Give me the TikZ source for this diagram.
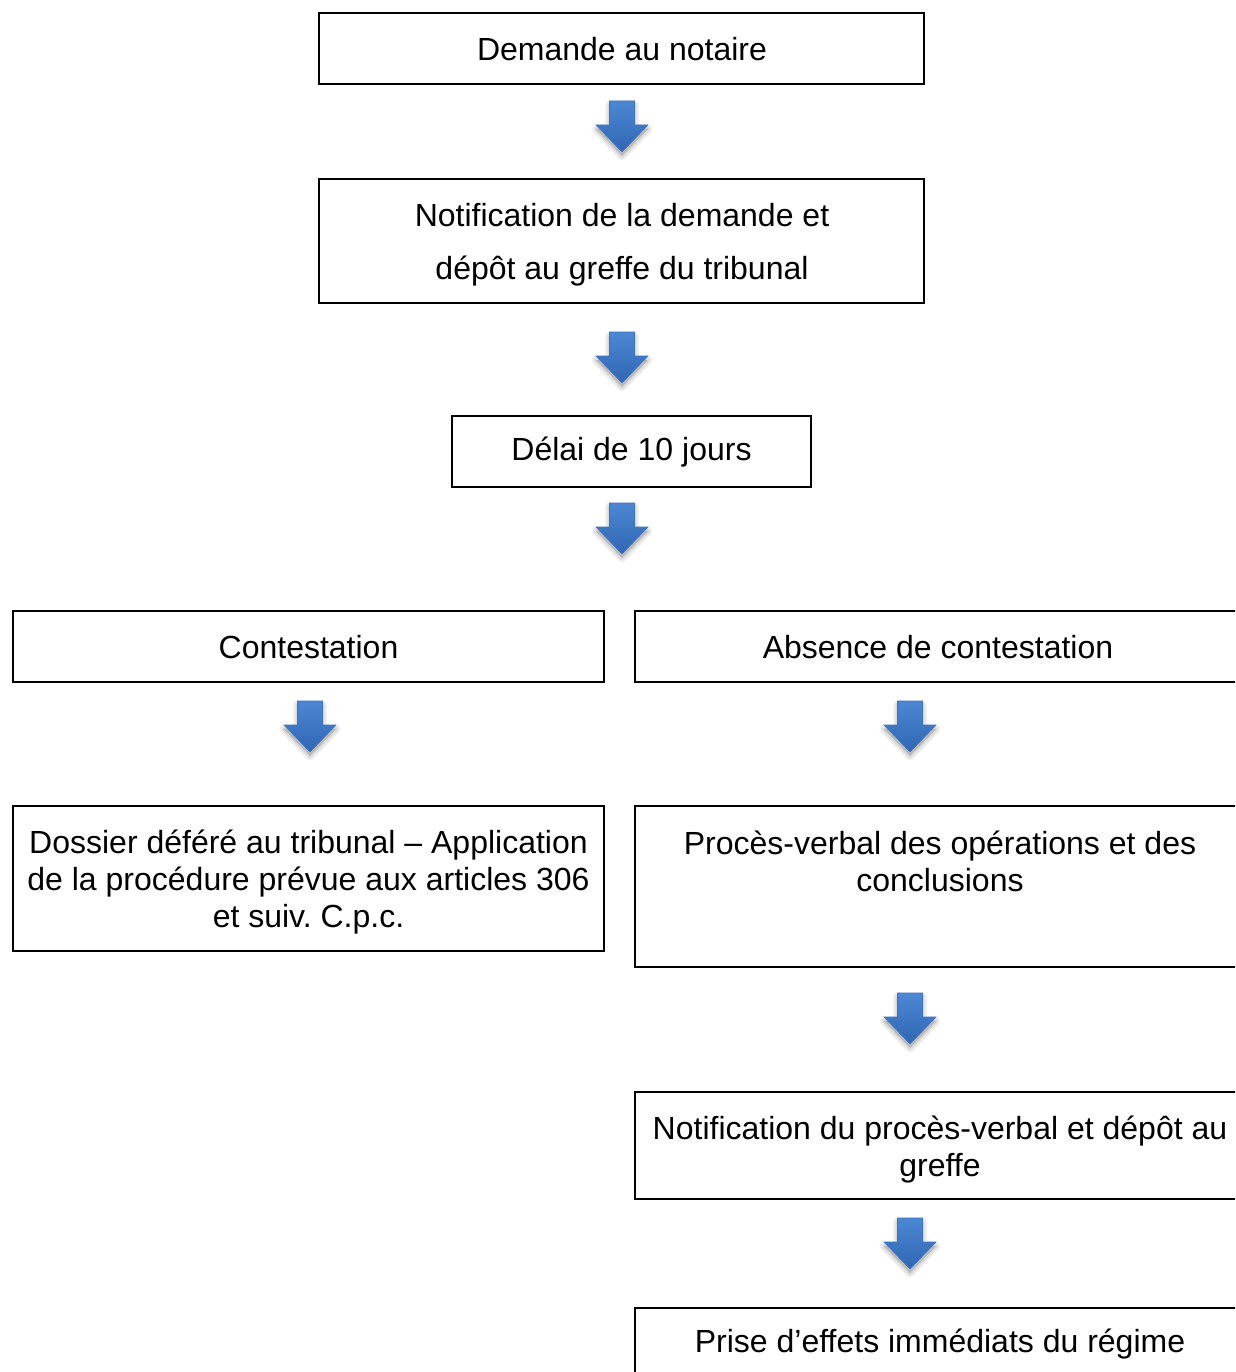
\documentclass[tikz,border=0pt]{standalone}
\usepackage{fontspec}
\setmainfont{Liberation Sans}
\frenchspacing
\definecolor{arrtop}{rgb}{0.30,0.53,0.83}
\definecolor{arrbot}{rgb}{0.19,0.40,0.70}
\definecolor{arredge}{rgb}{0.24,0.45,0.76}
\tikzset{
  box/.style={draw=black, line width=1.4pt, rectangle, inner sep=0pt},
  lbl/.style={inner sep=0pt, align=center, font=\fontsize{32}{37}\selectfont},
}
\newcommand{\bluearrow}[2]{%
  \begin{scope}[shift={(#1,#2)}]
    \foreach \w in {9,6,3}{
      \filldraw[black, opacity=0.05, line width=\w pt, line join=round]
        (-12.5,4) -- (12.5,4) -- (12.5,28) -- (26,28) -- (0,55) -- (-26,28) -- (-12.5,28) -- cycle;
    }
    \shade[top color=arrtop, bottom color=arrbot]
      (-12.5,0) -- (12.5,0) -- (12.5,24) -- (26,24) -- (0,51) -- (-26,24) -- (-12.5,24) -- cycle;
    \draw[arredge, line width=0.6pt, line join=miter]
      (-12.5,0) -- (12.5,0) -- (12.5,24) -- (26,24) -- (0,51) -- (-26,24) -- (-12.5,24) -- cycle;
  \end{scope}}
\begin{document}
\begin{tikzpicture}[x=1pt,y=-1pt]
  \useasboundingbox (0,0) rectangle (1235,1372);
  \clip (0,0) rectangle (1235,1372);
  \fill[white] (0,0) rectangle (1235,1372);

  \node[box, minimum width=605pt, minimum height=71pt] (b1) at (621.5,48.5) {};
  \node[lbl] (t1) at (622,49.5) {Demande au notaire};
  \node[box, minimum width=605pt, minimum height=124pt] (b2) at (621.5,241) {};
  \node[lbl] (t2) at (622,245)
    {Notification de la demande et\\[16pt]dépôt au greffe du tribunal};
  \node[box, minimum width=359pt, minimum height=71pt] (b3) at (631.5,451.5) {};
  \node[lbl] (t3) at (631.5,452.5) {Délai de 10 jours};
  \node[box, minimum width=591pt, minimum height=71pt] (b4) at (308.5,646.5) {};
  \node[lbl] (t4) at (308.5,647.5) {Contestation};
  \node[box, minimum width=606pt, minimum height=71pt] (b5) at (938,646.5) {};
  \node[lbl] (t5) at (938,647.5) {Absence de contestation};
  \node[box, minimum width=591pt, minimum height=145pt] (b6) at (308.5,878.5) {};
  \node[lbl] (t6) at (308.5,882.5)
    {Dossier déféré au tribunal – Application\\de la procédure prévue aux articles 306\\et suiv.\ C.p.c.};
  \node[box, minimum width=606pt, minimum height=161pt] (b7) at (938,886.5) {};
  \node[lbl] (t7) at (940,861) {Procès-verbal des opérations et des\\conclusions};
  \node[box, minimum width=606pt, minimum height=107pt] (b8) at (938,1145.5) {};
  \node[lbl] (t8) at (940,1149.5)
    {Notification du procès-verbal et dépôt au\\greffe};
  \node[box, minimum width=606pt, minimum height=100pt] (b9) at (938,1358) {};
  \node[lbl] (t9) at (940,1344) {Prise d’effets immédiats du régime};

  \bluearrow{622}{101}
  \bluearrow{622}{332}
  \bluearrow{622}{503}
  \bluearrow{310}{701}
  \bluearrow{910}{701}
  \bluearrow{910}{993}
  \bluearrow{910}{1218}
\end{tikzpicture}
\end{document}
